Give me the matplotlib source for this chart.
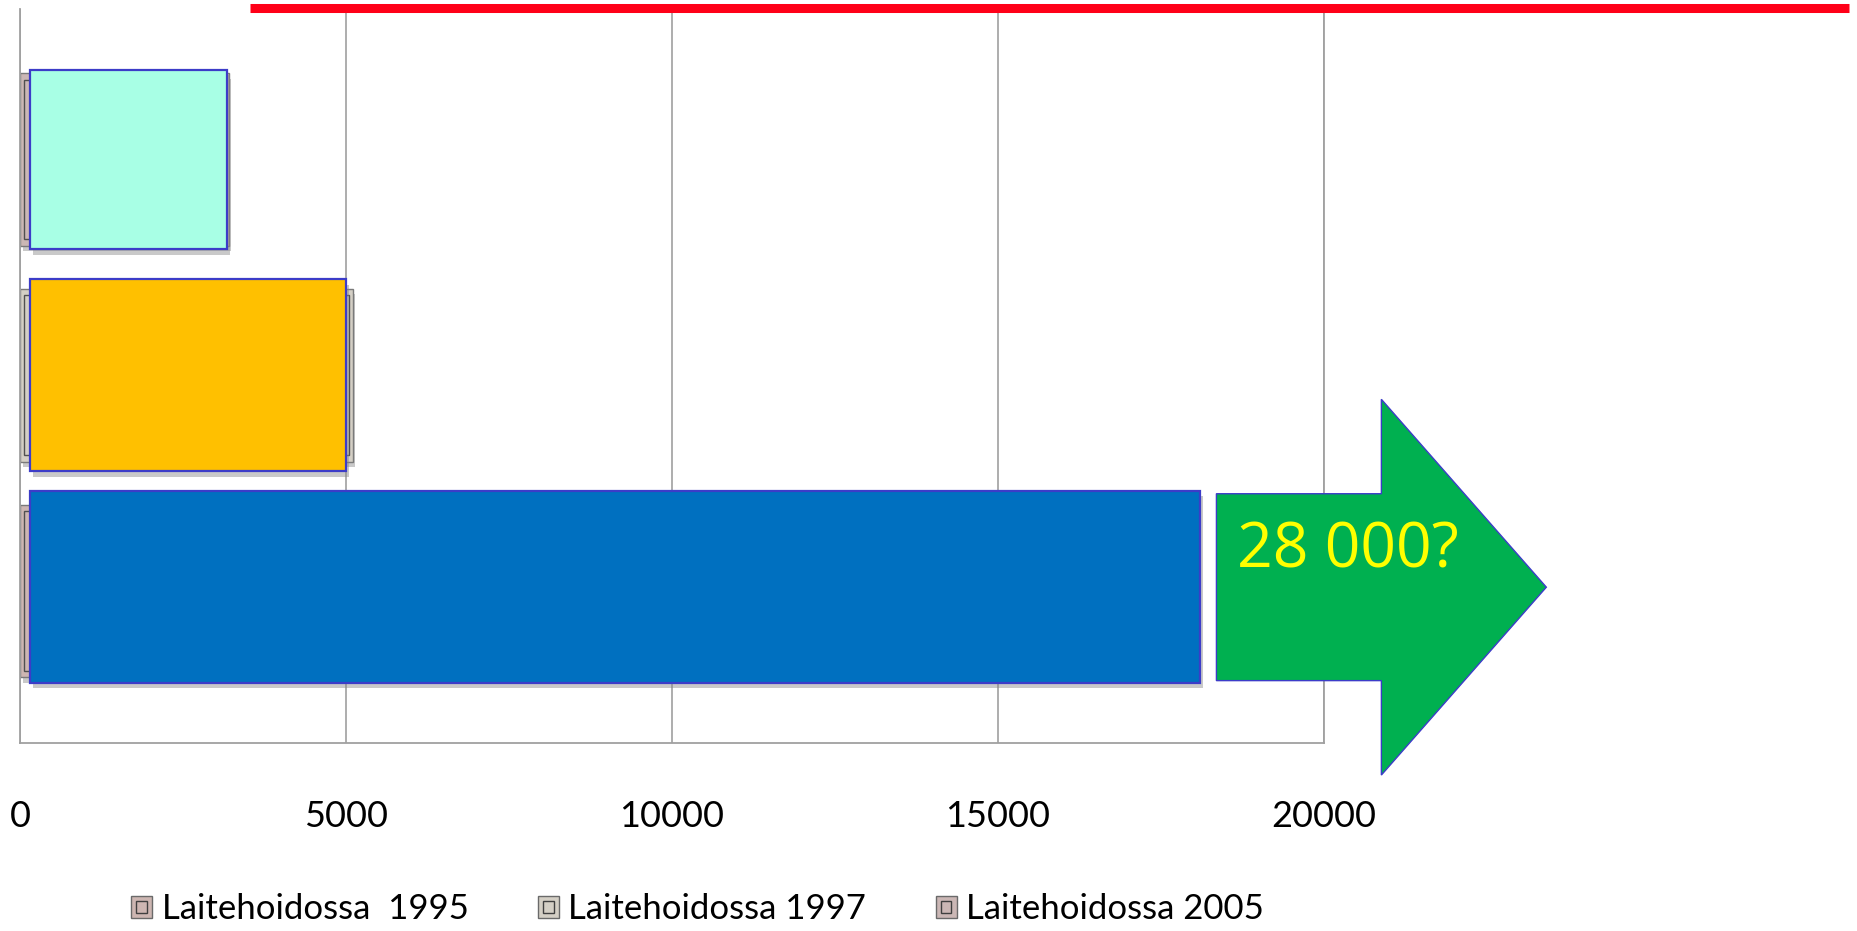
import numpy as np
import matplotlib
matplotlib.use("Agg")
import matplotlib.pyplot as plt
import matplotlib.patheffects as pe
from matplotlib.patches import Rectangle, FancyArrow
from matplotlib.lines import Line2D
from matplotlib.legend_handler import HandlerPatch

# Data
series = ['Laitehoidossa  1995', 'Laitehoidossa 1997', 'Laitehoidossa 2005']
values = [18000, 5100, 3200]
bar_colors = ['#CDB6B2', '#D4CFC5', '#CBB7B5']

# coloured boxes drawn over the bars
overlay_values = [18100, 5000, 3175]
overlay_colors = ['#0070C0', '#FFC000', '#A8FFE5']

arrow_text = '28 000?'
xticks = [0, 5000, 10000, 15000, 20000]

label_font = ['Lato', 'DejaVu Sans']

fig = plt.figure(figsize=(18.58, 9.31), dpi=100)
W, H = 1858, 931
ax = fig.add_axes([20 / W, 1 - 743 / H, (1324 - 20) / W, (743 - 9) / H])

y = np.arange(len(series))
shadow = [pe.SimplePatchShadow(offset=(2, -4), shadow_rgbFace='#888888', alpha=0.45), pe.Normal()]

bars = ax.barh(y, values, height=0.8, color=bar_colors, edgecolor='#7A7A7A',
               linewidth=1, label=series, zorder=2)
for b in bars:
    b.set_path_effects(shadow)
    x0, y0 = b.get_x(), b.get_y()
    w, h = b.get_width(), b.get_height()
    ax.add_patch(Rectangle((x0 + 60, y0 + 0.03), w - 120, h - 0.06, facecolor='none',
                           edgecolor='#505050', linewidth=1, zorder=3))

# overlay boxes
offsets = [0.02, 0.0, 0.0]
heights = [0.89, 0.89, 0.83]
for yi, v, c, off, hh in zip(y, overlay_values, overlay_colors, offsets, heights):
    r = ax.barh(yi + off, v - 150, left=150, height=hh, color=c, edgecolor='#3C3CC8',
                linewidth=1.6, zorder=4)
    r[0].set_path_effects(shadow)

# green arrow following the longest bar
start = overlay_values[0] + 250
arrow = FancyArrow(start, 0.018, 5060, 0, width=0.866, head_width=1.741,
                   head_length=2530, length_includes_head=True, facecolor='#00B050',
                   edgecolor='#3C3CC8', linewidth=1, clip_on=False, zorder=5)
ax.add_patch(arrow)
ax.text(start + 320, 0.111, arrow_text, color='#FFFF00', fontsize=45,
        family=['Open Sans', 'DejaVu Sans'], va='baseline', ha='left', zorder=6)

ax.set_xlim(0, 20000)
ax.set_ylim(-0.704, 2.697)
ax.set_xticks(xticks)
ax.set_xticklabels([str(t) for t in xticks], family=label_font, fontsize=26)
ax.tick_params(axis='x', length=0, pad=41)
ax.set_yticks([])
ax.grid(axis='x', color='#A0A0A0', linewidth=1.2, zorder=0)
ax.set_axisbelow(True)
ax.spines['top'].set_visible(False)
for s in ['left', 'bottom', 'right']:
    ax.spines[s].set_color('#A0A0A0')
    ax.spines[s].set_linewidth(1.3)


class InsetHandler(HandlerPatch):
    def create_artists(self, legend, orig_handle, xdescent, ydescent, width, height, fontsize, trans):
        outer = Rectangle((-xdescent, -ydescent), width, height,
                          facecolor=orig_handle.get_facecolor(), edgecolor='#6A6A6A',
                          linewidth=1, transform=trans)
        d = width * 0.25
        inner = Rectangle((-xdescent + d, -ydescent + d), width - 2 * d, height - 2 * d,
                          facecolor='none', edgecolor='#404040', linewidth=1, transform=trans)
        return [outer, inner]


fig.legend(handles=list(bars), labels=series, loc='center left',
           bbox_to_anchor=(131 / W, 1 - 909 / H), ncol=3, frameon=False,
           prop={'family': label_font, 'size': 25}, handlelength=0.6, handleheight=0.6,
           handletextpad=0.28, columnspacing=2.0, borderpad=0, borderaxespad=0,
           handler_map={Rectangle: InsetHandler()})

# red line at the top
fig.add_artist(Line2D([250 / W, 1849 / W], [1 - 7.5 / H, 1 - 7.5 / H], color='#FF0018',
                      linewidth=6.5, solid_capstyle='butt'))

fig.savefig('out.png', dpi=100)
